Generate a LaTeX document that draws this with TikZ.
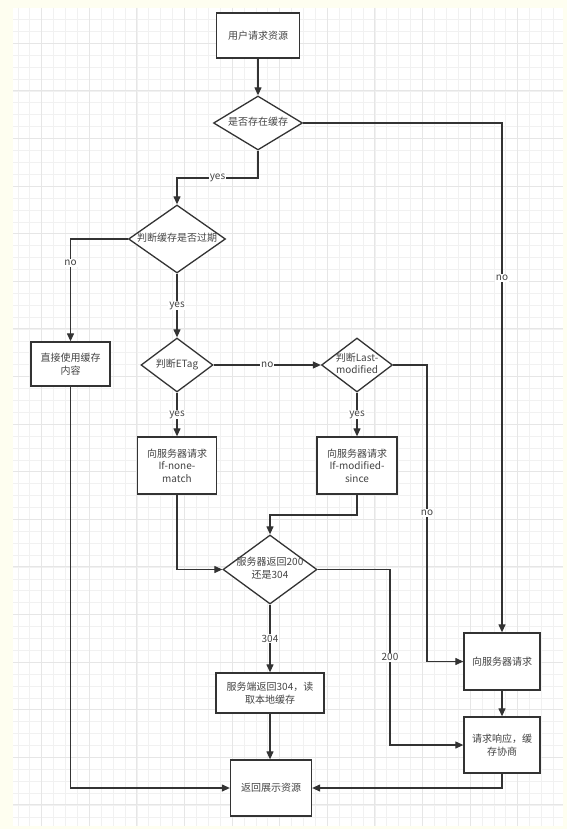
\documentclass[tikz,border=0pt]{standalone}
\usepackage{fontspec}
\newfontfamily\cjk{Noto Sans CJK SC}
\usetikzlibrary{arrows.meta,shapes.geometric}
\definecolor{paper}{HTML}{FEFEF0}
\definecolor{gridminor}{HTML}{F1F1F1}
\definecolor{gridmajor}{HTML}{E6E6E6}
\definecolor{ink}{HTML}{333333}
\definecolor{inktext}{HTML}{444444}
\newcommand\zw[1]{\makebox[0pt]{\begin{tabular}{@{}c@{}}#1\end{tabular}}}
\begin{document}
\begin{tikzpicture}[
  x=1pt,
  y=-1pt,
  every node/.style={font=\cjk\fontsize{10pt}{12.6pt}\selectfont,text=inktext},
  process/.style={rectangle,draw=ink,line width=1.3pt,fill=white,align=center,inner sep=2pt},
  decision/.style={diamond,draw=ink,line width=1.3pt,fill=white,inner sep=0pt,aspect=1.4},
  flow/.style={-{Triangle[length=8pt,width=7pt]},draw=ink,line width=1.2pt},
  lbl/.style={fill=white,inner sep=1pt}
]
\useasboundingbox (0,0) rectangle (567,829);

% paper and grid
\fill[paper] (0,0) rectangle (567,829);
\fill[white] (13,8) rectangle (563,826);
\foreach \gx in {17.9,29.8,...,562} \draw[gridminor,line width=0.8pt] (\gx,8) -- (\gx,826);
\foreach \gy in {19.6,31.5,...,825} \draw[gridminor,line width=0.8pt] (13,\gy) -- (563,\gy);
\foreach \gx in {41.7,89.3,...,562} \draw[gridmajor,line width=1pt] (\gx,8) -- (\gx,826);
\foreach \gy in {43.3,90.9,...,825} \draw[gridmajor,line width=1pt] (13,\gy) -- (563,\gy);

% top
\node[process,minimum width=83pt,minimum height=45pt] (start) at (258,35.5) {用户请求资源};
\node[decision,minimum width=89pt,minimum height=54pt] (hascache) at (258,123) {\zw{是否存在缓存}};
\node[decision,minimum width=97pt,minimum height=68pt] (expired) at (177,239) {\zw{判断缓存是否过期}};

% middle
\node[process,minimum width=79pt,minimum height=44pt] (usecache) at (70.5,364) {直接使用缓存\\内容};
\node[decision,minimum width=72pt,minimum height=54pt] (etag) at (177,365) {\zw{判断ETag}};
\node[decision,minimum width=71pt,minimum height=54pt] (lastmod) at (357,365) {\zw{判断Last-\\modified}};
\node[process,minimum width=79pt,minimum height=57pt] (ifnone) at (177,465.5) {向服务器请求\\If-none-\\match};
\node[process,minimum width=80pt,minimum height=57pt] (ifmod) at (357,465.5) {向服务器请求\\If-modified-\\since};

% bottom
\node[decision,minimum width=94pt,minimum height=69pt] (status) at (270,569.5) {\zw{服务器返回200\\还是304}};
\node[process,minimum width=108pt,minimum height=40pt] (local) at (270,693) {服务端返回304，读\\取本地缓存};
\node[process,minimum width=81pt,minimum height=56pt] (show) at (271,788) {返回展示资源};
\node[process,minimum width=76pt,minimum height=57pt] (request) at (502,661.5) {向服务器请求};
\node[process,minimum width=76pt,minimum height=56pt] (respond) at (502,745) {请求响应，缓\\存协商};

% bends
\coordinate (kyes) at (258,178);
\coordinate (knomod) at (427,661.5);
\coordinate (kmod) at (357,515);
\coordinate (k200) at (390,745);

% connectors
\draw[flow] (start) -- (hascache);
\draw[flow] (hascache.south) -- (kyes) -| node[lbl,pos=0.25] {yes} (expired.north);
\draw[flow] (hascache.east) -| node[lbl,pos=0.652] {no} (request.north);
\draw[flow] (expired.west) -| node[lbl,pos=0.617] {no} (usecache.north);
\draw[flow] (expired.south) -- node[lbl] {yes} (etag.north);
\draw[flow] (etag.east) -- node[lbl] {no} (lastmod.west);
\draw[flow] (etag.south) -- node[lbl] {yes} (ifnone.north);
\draw[flow] (lastmod.south) -- node[lbl] {yes} (ifmod.north);
\draw[flow] (lastmod.east) -| node[lbl,pos=0.75] {no} (knomod) -- (request.west);
\draw[flow] (ifmod.south) -- (kmod) -| (status.north);
\draw[flow] (ifnone.south) |- (status.west);
\draw[flow] (status.east) -| node[lbl,pos=0.75] {200} (k200) -- (respond.west);
\draw[flow] (status.south) -- node[lbl] {304} (local.north);
\draw[flow] (local.south) -- (show.north -| local.south);
\draw[flow] (usecache.south) |- (show.west);
\draw[flow] (respond.south) |- (show.east);
\draw[flow] (request) -- (respond);
\end{tikzpicture}
\end{document}
